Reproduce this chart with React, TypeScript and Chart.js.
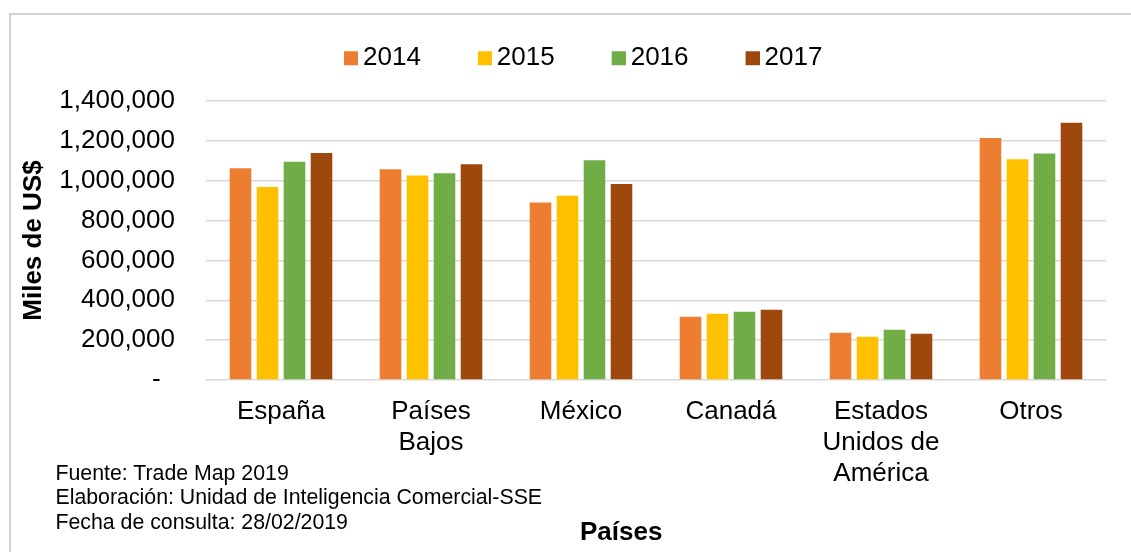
import React, { useEffect, useRef } from "react";
import { Chart, registerables } from "chart.js";

Chart.register(...registerables);

const categories: (string | string[])[] = [
  "España",
  ["Países", "Bajos"],
  "México",
  "Canadá",
  ["Estados", "Unidos de", "América"],
  "Otros",
];
const seriesNames = ["2014", "2015", "2016", "2017"];
const values2014 = [1062000, 1058000, 891000, 318000, 237000, 1214000];
const values2015 = [969000, 1026000, 924000, 333000, 217000, 1108000];
const values2016 = [1095000, 1038000, 1103000, 343000, 252000, 1137000];
const values2017 = [1139000, 1083000, 983000, 353000, 232000, 1291000];
const seriesColors = ["#ED7D31", "#FFC000", "#70AD47", "#9E480E"];
const yTickMin = 0;
const yTickMax = 1400000;
const yTickStep = 200000;
const yTitle = "Miles de US$";
const xTitle = "Países";
const notes = [
  "Fuente: Trade Map 2019",
  "Elaboración: Unidad de Inteligencia Comercial-SSE",
  "Fecha de consulta: 28/02/2019",
];

const FONT = "'Liberation Sans', Arial, sans-serif";

function makeMarker(color: string): HTMLCanvasElement {
  const c = document.createElement("canvas");
  c.width = 24;
  c.height = 24;
  const ctx = c.getContext("2d")!;
  ctx.fillStyle = color;
  ctx.fillRect(10, 5, 14, 14);
  return c;
}

export default function App() {
  const canvasRef = useRef<HTMLCanvasElement | null>(null);

  useEffect(() => {
    if (!canvasRef.current) return;
    const markers = seriesColors.map(makeMarker);
    const allValues = [values2014, values2015, values2016, values2017];

    const layoutPlugin = {
      id: "layoutTweaks",
      beforeLayout(chart: any) {
        const lg = chart.legend;
        if (lg && !lg.__patched) {
          const orig = lg.fit;
          lg.fit = function () {
            orig.call(this);
            this.height = 101;
          };
          lg.__patched = true;
        }
      },
      afterLayout(chart: any) {
        const lg = chart.legend;
        if (lg) {
          lg.left = 287;
          lg.right = 3000;
          lg.top = -9.8;
        }
      },
    };

    const chart = new Chart(canvasRef.current, {
      type: "bar",
      data: {
        labels: categories,
        datasets: seriesNames.map((name, i) => ({
          label: name,
          data: allValues[i],
          backgroundColor: seriesColors[i],
          borderWidth: 0,
          categoryPercentage: 0.72,
          barPercentage: 0.8,
        })),
      },
      options: {
        responsive: false,
        animation: false,
        layout: { padding: { left: 10, right: 25, top: 0, bottom: 0 } },
        plugins: {
          tooltip: { enabled: false },
          legend: {
            display: true,
            position: "top",
            align: "start",
            labels: {
              usePointStyle: true,
              pointStyleWidth: 8,
              padding: 55,
              color: "#000",
              font: { family: FONT, size: 26 },
              generateLabels: (c: any) => {
                const items = (Chart as any).defaults.plugins.legend.labels.generateLabels(c);
                return items.map((it: any, i: number) => ({ ...it, pointStyle: markers[i] }));
              },
            },
          },
        },
        scales: {
          x: {
            grid: { display: false, drawTicks: false },
            border: { display: false },
            ticks: {
              color: "#000",
              font: { family: FONT, size: 26, lineHeight: 1.2 },
              padding: 16,
              maxRotation: 0,
              autoSkip: false,
            },
            afterFit: (s: any) => {
              s.height = 172;
            },
          },
          y: {
            min: yTickMin,
            max: yTickMax,
            grid: { color: "#D9D9D9", lineWidth: 1.5, drawTicks: false },
            border: { display: false },
            ticks: {
              stepSize: yTickStep,
              color: "#000",
              padding: 31,
              font: { family: FONT, size: 26 },
              callback: (v: any) => (Number(v) === 0 ? "-  " : Number(v).toLocaleString("en-US")),
            },
            title: {
              display: true,
              text: yTitle,
              color: "#000",
              font: { family: FONT, size: 26, weight: "bold" },
              padding: { top: 8, bottom: 0 },
            },
            afterFit: (s: any) => {
              s.width = 196;
            },
          },
        },
      },
      plugins: [layoutPlugin],
    } as any);

    return () => chart.destroy();
  }, []);

  return (
    <div
      style={{
        position: "fixed",
        left: 0,
        top: 0,
        width: 1131,
        height: 552,
        overflow: "hidden",
        background: "#fff",
        fontFamily: FONT,
      }}
    >
      <div
        style={{
          position: "absolute",
          left: 9,
          top: 13,
          width: 1300,
          height: 700,
          border: "2px solid #D0D0D0",
        }}
      />
      <canvas
        ref={canvasRef}
        width={1131}
        height={552}
        style={{ position: "absolute", left: 0, top: 0, width: 1131, height: 552 }}
      />
      <div
        style={{
          position: "absolute",
          left: 55.5,
          top: 460.5,
          fontSize: 21.3,
          lineHeight: "24.5px",
          color: "#000",
          whiteSpace: "nowrap",
        }}
      >
        {notes.map((n, i) => (
          <div key={i}>{n}</div>
        ))}
      </div>
      <div
        style={{
          position: "absolute",
          left: 580,
          top: 516,
          fontSize: 26,
          fontWeight: "bold",
          lineHeight: "30px",
          color: "#000",
          whiteSpace: "nowrap",
        }}
      >
        {xTitle}
      </div>
    </div>
  );
}
